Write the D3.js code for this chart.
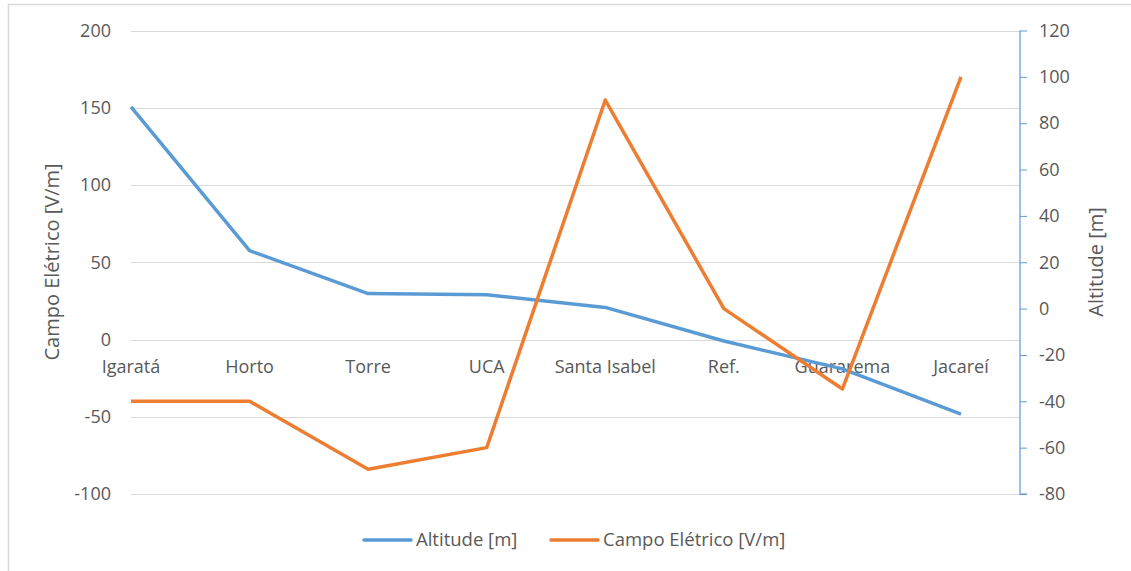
<!DOCTYPE html>
<html>
<head>
<meta charset="utf-8">
<script src="https://cdn.jsdelivr.net/npm/d3@7"></script>
<style>
  body { margin: 0; background: #fff; }
  text { font-family: "Open Sans", sans-serif; fill: #595959; }
</style>
</head>
<body>
<svg id="chart"></svg>
<script>
let categories = ['Igaratá', 'Horto', 'Torre', 'UCA', 'Santa Isabel', 'Ref.', 'Guararema', 'Jacareí'];
let altitude = [87, 25, 6.5, 6, 0.5, -14, -26, -45.5];
let campo = [-40, -40, -84, -70, 155, 20, -32, 170];
let leftTicks = [-100, -50, 0, 50, 100, 150, 200];
let rightTicks = [-80, -60, -40, -20, 0, 20, 40, 60, 80, 100, 120];

let w = 1131, h = 571;
let yTop = 30.5, yBottom = 494;
let xLeft = 131, xRight = 1020;
let tickFont = '18px';

let svg = d3.select('#chart')
    .attr('width', w)
    .attr('height', h);

//outer frame
svg.append('rect')
    .attr('x', 8.5).attr('y', 4.5)
    .attr('width', w).attr('height', h)
    .attr('fill', 'none')
    .attr('stroke', '#d9d9d9')
    .attr('stroke-width', 1.5);

let xScale = d3.scalePoint()
    .domain(categories)
    .range([xLeft, 961]);

let yLeft = d3.scaleLinear()
    .domain([-100, 200])
    .range([yBottom, yTop]);

let yRight = d3.scaleLinear()
    .domain([-80, 120])
    .range([yBottom, yTop]);

//gridlines
svg.append('g')
    .selectAll('line')
    .data(leftTicks)
    .enter()
    .append('line')
    .attr('x1', xLeft).attr('x2', xRight)
    .attr('y1', d => Math.round(yLeft(d)) + 0.5)
    .attr('y2', d => Math.round(yLeft(d)) + 0.5)
    .attr('stroke', '#d9d9d9')
    .attr('stroke-width', 1);

//left axis labels
svg.append('g')
    .selectAll('text')
    .data(leftTicks)
    .enter()
    .append('text')
    .attr('x', 111)
    .attr('y', d => yLeft(d))
    .attr('dy', '0.35em')
    .style('text-anchor', 'end')
    .style('font-size', tickFont)
    .text(d => d);

//right axis
let rAxis = d3.axisRight(yRight)
    .tickValues(rightTicks)
    .tickSize(7)
    .tickPadding(12)
    .tickFormat(d => String(d));

let rg = svg.append('g')
    .attr('transform', 'translate(' + xRight + ',0)')
    .call(rAxis);
rg.select('.domain').attr('stroke', '#5b9bd5').attr('stroke-width', 1.2)
    .attr('d', 'M0,' + yTop + 'V' + yBottom + 'H7');
rg.selectAll('.tick line').attr('stroke', '#5b9bd5');
rg.selectAll('.tick text')
    .style('font-family', '"Open Sans", sans-serif')
    .style('font-size', tickFont)
    .attr('fill', '#595959')
    .style('text-anchor', 'start');

//category labels
svg.append('g')
    .selectAll('text')
    .data(categories)
    .enter()
    .append('text')
    .attr('x', d => xScale(d))
    .attr('y', 367)
    .attr('dy', '0.35em')
    .style('text-anchor', 'middle')
    .style('font-size', tickFont)
    .text(d => d);

//axis titles
svg.append('text')
    .attr('transform', 'rotate(-90)')
    .attr('x', -262)
    .attr('y', 52)
    .attr('dy', '0.35em')
    .style('text-anchor', 'middle')
    .style('font-size', '20px')
    .text('Campo Elétrico [V/m]');

svg.append('text')
    .attr('transform', 'rotate(-90)')
    .attr('x', -262)
    .attr('y', 1096)
    .attr('dy', '0.35em')
    .style('text-anchor', 'middle')
    .style('font-size', '20px')
    .text('Altitude [m]');

//lines
let altLine = d3.line()
    .x((d, i) => xScale(categories[i]))
    .y(d => yRight(d));

let campoLine = d3.line()
    .x((d, i) => xScale(categories[i]))
    .y(d => yLeft(d));

svg.append('path')
    .datum(altitude)
    .attr('d', altLine)
    .attr('fill', 'none')
    .attr('stroke', '#5b9bd5')
    .attr('stroke-width', 3.5)
    .attr('stroke-linejoin', 'round');

svg.append('path')
    .datum(campo)
    .attr('d', campoLine)
    .attr('fill', 'none')
    .attr('stroke', '#ed7d31')
    .attr('stroke-width', 3.5)
    .attr('stroke-linejoin', 'round');

//legend
let legend = [
    { name: 'Altitude [m]', color: '#5b9bd5', x: 364 },
    { name: 'Campo Elétrico [V/m]', color: '#ed7d31', x: 551 }
];

let lg = svg.append('g');
lg.selectAll('line')
    .data(legend)
    .enter()
    .append('line')
    .attr('x1', d => d.x).attr('x2', d => d.x + 47)
    .attr('y1', 540).attr('y2', 540)
    .attr('stroke', d => d.color)
    .attr('stroke-width', 3.5)
    .attr('stroke-linecap', 'round');

lg.selectAll('text')
    .data(legend)
    .enter()
    .append('text')
    .attr('x', d => d.x + 52)
    .attr('y', 540)
    .attr('dy', '0.35em')
    .style('font-size', '18.5px')
    .text(d => d.name);
</script>
</body>
</html>
